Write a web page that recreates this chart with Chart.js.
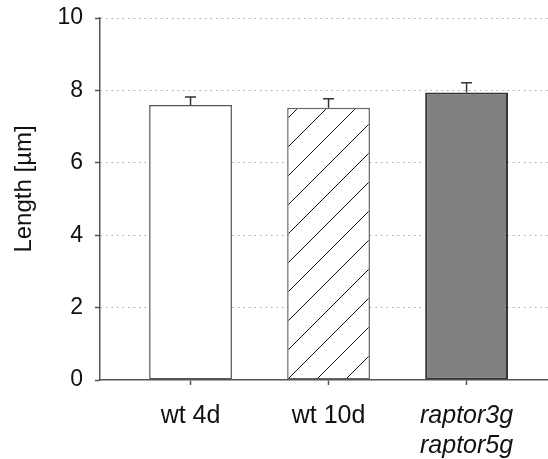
<!DOCTYPE html>
<html>
<head>
<meta charset="utf-8">
<script src="https://cdn.jsdelivr.net/npm/chart.js@4/dist/chart.umd.min.js"></script>
<style>
  html, body { margin: 0; padding: 0; background: #fff; }
  #wrap { width: 548px; height: 459px; }
</style>
</head>
<body>
<div id="wrap"><canvas id="lengthChart" width="548" height="459"></canvas></div>
<script>
// Mittlere Länge je Linie, mit oberem Fehlerbalken
const groups = ['wt 4d', 'wt 10d', ['raptor3g', 'raptor5g']];
const lengths = [7.6, 7.52, 7.94];
const errors = [0.22, 0.25, 0.27];
const yTicks = [0, 2, 4, 6, 8, 10];

const FONT = 'Liberation Sans, Arial, sans-serif';

// Schraffur für wt 10d (weißer Grund, schräge Linien)
function hatch() {
    const c = document.createElement('canvas');
    c.width = 29; c.height = 29;
    const g = c.getContext('2d');
    g.fillStyle = '#fff';
    g.fillRect(0, 0, 29, 29);
    g.strokeStyle = '#111';
    g.lineWidth = 1;
    g.beginPath();
    g.moveTo(-2, 31); g.lineTo(31, -2);
    g.stroke();
    return g.createPattern(c, 'repeat');
}

const errorBars = {
    id: 'errorBars',
    afterDatasetsDraw(chart) {
        const ctx = chart.ctx;
        const y = chart.scales.y;
        const meta = chart.getDatasetMeta(0);
        ctx.save();
        ctx.strokeStyle = '#333';
        ctx.lineWidth = 1.5;
        meta.data.forEach((bar, i) => {
            const top = y.getPixelForValue(lengths[i] + errors[i]);
            ctx.beginPath();
            ctx.moveTo(bar.x, bar.y);
            ctx.lineTo(bar.x, top);
            ctx.moveTo(bar.x - 5.5, top);
            ctx.lineTo(bar.x + 5.5, top);
            ctx.stroke();
        });
        ctx.restore();
    }
};

const ctx = document.getElementById('lengthChart').getContext('2d');
new Chart(ctx, {
    type: 'bar',
    data: {
        datasets: [{
            data: lengths.map((v, i) => ({ x: i + 1, y: v })),
            backgroundColor: ['#ffffff', hatch(), '#808080'],
            borderColor: ['#555555', '#666666', '#333333'],
            borderWidth: [1.5, 1.5, 2],
            borderSkipped: false,
            categoryPercentage: 0.8,
            barPercentage: 0.75
        }]
    },
    options: {
        responsive: false,
        animation: false,
        layout: { padding: { top: 18, right: 0, left: 0, bottom: 0 } },
        plugins: { legend: { display: false }, tooltip: { enabled: false } },
        scales: {
            x: {
                type: 'linear',
                offset: false,
                min: 0.344,
                max: 3.59,
                afterBuildTicks: s => { s.ticks = groups.map((g, i) => ({ value: i + 1 })); },
                afterFit: s => { s.height = 79; s.paddingLeft = 0; s.paddingRight = 0; },
                ticks: {
                    callback: v => groups[v - 1],
                    color: '#111',
                    padding: 16,
                    maxRotation: 0,
                    font: c => ({
                        family: FONT,
                        size: 25,
                        style: c.index === 2 ? 'italic' : 'normal',
                        lineHeight: 1.2
                    })
                },
                grid: {
                    offset: false,
                    drawOnChartArea: false,
                    tickLength: 5,
                    tickColor: '#555',
                    tickWidth: 1.5
                },
                border: { color: '#555', width: 1.5 }
            },
            y: {
                min: 0,
                max: 10,
                afterBuildTicks: s => { s.ticks = yTicks.map(v => ({ value: v })); },
                afterFit: s => { s.width = 100; s.paddingTop = 0; s.paddingBottom = 0; },
                title: {
                    display: true,
                    // führende Leerzeichen rücken den Titel etwas nach oben
                    text: '\u00a0\u00a0\u00a0Length [µm]',
                    color: '#111',
                    padding: { top: 10, bottom: 0 },
                    font: { family: FONT, size: 24 }
                },
                ticks: {
                    color: '#111',
                    padding: 12,
                    font: { family: FONT, size: 23 }
                },
                grid: {
                    color: c => c.tick && c.tick.value === 0 ? 'rgba(0,0,0,0)' : '#a8a8a8',
                    lineWidth: 1,
                    tickLength: 5,
                    tickColor: '#555',
                    tickWidth: 1.5,
                    tickBorderDash: []
                },
                border: { color: '#555', width: 1.5, dash: [1.5, 4] }
            }
        }
    },
    plugins: [errorBars]
});
</script>
</body>
</html>
